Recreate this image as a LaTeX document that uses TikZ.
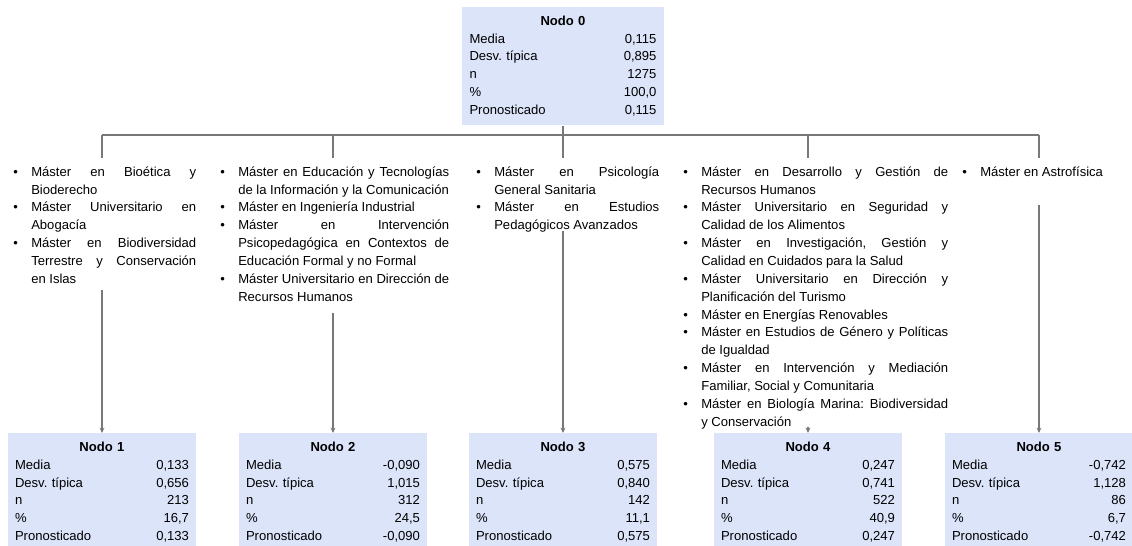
\documentclass[tikz,border=0pt]{standalone}
\usepackage{fontspec}
\setmainfont{Liberation Sans}
\usepackage{tikz}
\usetikzlibrary{positioning}
\usetikzlibrary{arrows.meta}
\usepackage{enumitem}

\definecolor{nodefill}{RGB}{220,228,250}
\definecolor{linegray}{RGB}{120,120,120}

\setlength{\parindent}{0pt}
\frenchspacing
\tolerance=9999
\hyphenpenalty=10000
\setlist[itemize]{nosep, leftmargin=13.5pt, labelwidth=13.5pt, labelsep=0pt, align=left, label=\textbullet}

% rows of one node of the tree
\newcommand{\nodostats}[7][2pt]{%
  \rule{0pt}{11.25pt}\hfill\textbf{#2}\hfill\null\\
  Media\hfill #3\\
  Desv. típica\hfill #4\\
  n\hfill #5\\
  \%\hfill #6\\
  Pronosticado\hfill #7\rule[-#1]{0pt}{0pt}}

\begin{document}
\begin{tikzpicture}[x=0.75pt, y=-0.75pt, >={Stealth[length=4pt,width=3.6pt]},
  every node/.style={font=\fontsize{9.8}{13.4}\selectfont},
  statbox/.style={fill=nodefill, anchor=north, inner xsep=5.6pt, inner ysep=2.25pt, text width=130.5pt, align=left},
  listbox/.style={anchor=north west, inner sep=0pt, align=justify},
  line/.style={draw=linegray, line width=0.9pt}]
  \useasboundingbox (0,0) rectangle (1132,546);

  \node[statbox, text width=140.25pt] (n0) at (563,7) {\nodostats[5.8pt]{Nodo 0}{0,115}{0,895}{1275}{100,0}{0,115}};

  \node[statbox] (n1) at (102,433) {\nodostats{Nodo 1}{0,133}{0,656}{213}{16,7}{0,133}};
  \node[statbox] (n2) at (333,433) {\nodostats{Nodo 2}{-0,090}{1,015}{312}{24,5}{-0,090}};
  \node[statbox] (n3) at (563,433) {\nodostats{Nodo 3}{0,575}{0,840}{142}{11,1}{0,575}};
  \node[statbox] (n4) at (808,433) {\nodostats{Nodo 4}{0,247}{0,741}{522}{40,9}{0,247}};
  \node[statbox] (n5) at (1039,433) {\nodostats{Nodo 5}{-0,742}{1,128}{86}{6,7}{-0,742}};

  \node[listbox, text width=137.25pt] (l1) at (13,158) {\begin{itemize}
    \item Máster en Bioética y\linebreak Bioderecho
    \item Máster Universitario en\linebreak Abogacía
    \item Máster en Biodiversidad\linebreak Terrestre y Conservación\linebreak en Islas
  \end{itemize}};
  \node[listbox, text width=171.75pt] (l2) at (220,158) {\begin{itemize}
    \item Máster en Educación y Tecnologías\linebreak de la Información y la Comunicación
    \item Máster en Ingeniería Industrial
    \item Máster en Intervención\linebreak Psicopedagógica en Contextos de\linebreak Educación Formal y no Formal
    \item Máster Universitario en Dirección de\linebreak Recursos Humanos
  \end{itemize}};
  \node[listbox, text width=137.25pt] (l3) at (476,158) {\begin{itemize}
    \item Máster en Psicología\linebreak General Sanitaria
    \item Máster en Estudios\linebreak Pedagógicos Avanzados
  \end{itemize}};
  \node[listbox, text width=198.75pt] (l4) at (683,158) {\begin{itemize}
    \item Máster en Desarrollo y Gestión de\linebreak Recursos Humanos
    \item Máster Universitario en Seguridad y\linebreak Calidad de los Alimentos
    \item Máster en Investigación, Gestión y\linebreak Calidad en Cuidados para la Salud
    \item Máster Universitario en Dirección y\linebreak Planificación del Turismo
    \item Máster en Energías Renovables
    \item Máster en Estudios de Género y Políticas\linebreak de Igualdad
    \item Máster en Intervención y Mediación\linebreak Familiar, Social y Comunitaria
    \item Máster en Biología Marina: Biodiversidad\linebreak y Conservación
  \end{itemize}};
  \node[listbox, text width=123.75pt] (l5) at (962,158) {\begin{itemize}
    \item Máster en Astrofísica
  \end{itemize}};

  \coordinate (b1) at (102,135);
  \coordinate (b2) at (333,135);
  \coordinate (b3) at (563,135);
  \coordinate (b4) at (808,135);
  \coordinate (b5) at (1039,135);

  \coordinate (s1) at (102,290);
  \coordinate (s2) at (333,313);
  \coordinate (s3) at (563,231);
  \coordinate (s4) at (808,427);
  \coordinate (s5) at (1039,205);

  \draw[line] (n0) -- (b3 |- l3.north);
  \draw[line] (b1) -- (b5); % branch line
  \foreach \i in {1,2,4,5}
    \draw[line] (b\i) -- (b\i |- l\i.north);
  \foreach \i in {1,...,5}
    \draw[line,->] (s\i) -- (n\i);
\end{tikzpicture}
\end{document}
